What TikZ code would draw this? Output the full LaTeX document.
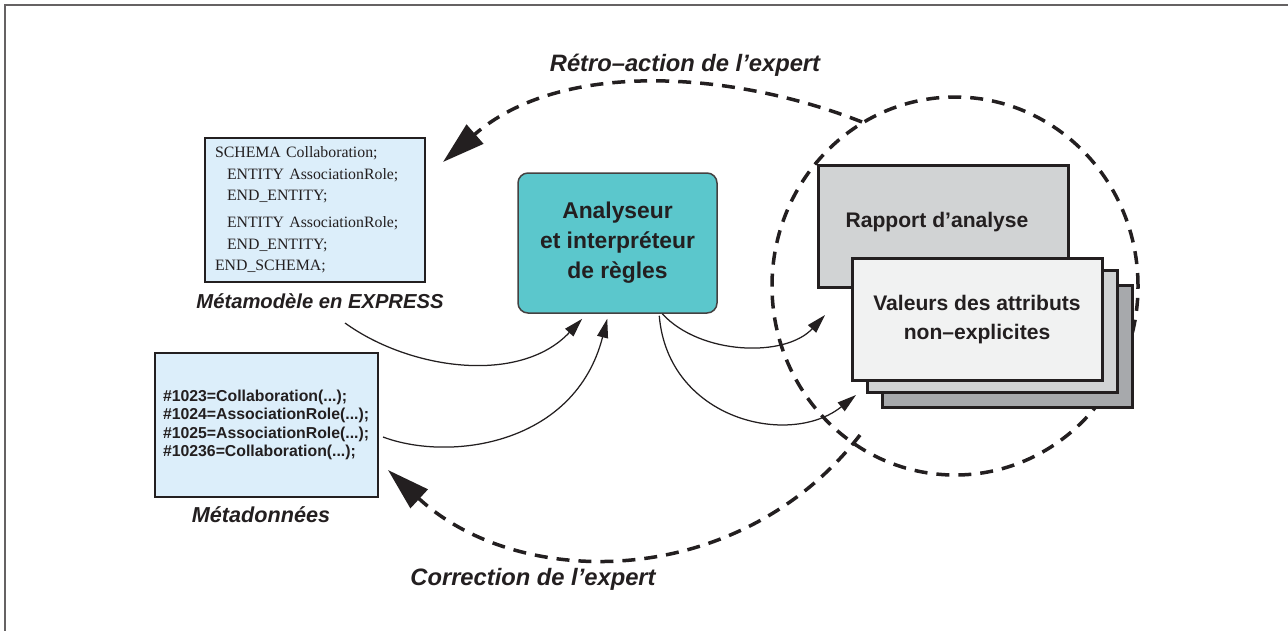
\documentclass[tikz,border=0pt]{standalone}
\usepackage{fontspec}
\setmainfont{Liberation Sans}
\newfontfamily\codefont{Liberation Serif}
\usetikzlibrary{arrows.meta}
\definecolor{ink}{RGB}{35,31,32}
\definecolor{codeblue}{RGB}{220,238,250}
\definecolor{analyseteal}{RGB}{91,199,204}
\definecolor{greylight}{RGB}{209,211,212}
\definecolor{greydark}{RGB}{167,169,172}
\definecolor{greypale}{RGB}{241,242,242}

\begin{document}
\begin{tikzpicture}
			[x=0.2mm, y=-0.2mm,
			codebox/.style={draw=ink, line width=0.5mm, fill=codeblue, minimum height=28.8mm, inner sep=0pt, align=left, text=ink},
			stackbox/.style={draw=ink, line width=0.6mm, minimum width=50mm, minimum height=24.4mm, inner sep=0pt},
			boxtext/.style={font=\bfseries\fontsize{12}{16.5}\selectfont, text=ink, align=center, inner sep=0pt},
			caption/.style={font=\bfseries\itshape\fontsize{11.5}{13}\selectfont, text=ink, anchor=base, inner sep=0pt},
			bigcaption/.style={caption, font=\bfseries\itshape\fontsize{13.5}{15}\selectfont},
			flow/.style={ink, line width=0.25mm, -{Triangle[length=3.8mm, width=2.2mm]}},
			feedback/.style={ink, line width=0.7mm, dash pattern=on 2.6mm off 1.8mm, -{Triangle[length=8.5mm, width=5mm]}}]
			\useasboundingbox (0,0) rectangle (1288,631);
			\draw[ink!70, line width=0.45mm] (1288,5) -- (5,5) -- (5,631);
			\draw[ink, line width=0.7mm, dash pattern=on 2.6mm off 1.8mm] (955,286) ellipse [x radius=36.6mm, y radius=37.8mm];
			\node[codebox, minimum width=44mm, text width=40mm, font=\codefont\fontsize{9}{12.2}\selectfont] (schema) at (315,210)
				{SCHEMA Collaboration;\\
				\hspace*{2.4mm}ENTITY AssociationRole;\\
				\hspace*{2.4mm}END\_ENTITY;\\[1.2mm]
				\hspace*{2.4mm}ENTITY AssociationRole;\\
				\hspace*{2.4mm}END\_ENTITY;\\
				END\_SCHEMA;};
			\node[caption] (schemalabel) at (320,308) {Métamodèle en EXPRESS};
			\node[codebox, minimum width=44.6mm, text width=41.4mm, font=\bfseries\fontsize{9}{10.5}\selectfont] (data) at (266.5,425)
				{\#1023=Collaboration(...);\\
				\#1024=AssociationRole(...);\\
				\#1025=AssociationRole(...);\\
				\#10236=Collaboration(...);};
			\node[caption, font=\bfseries\itshape\fontsize{12.3}{14}\selectfont] (datalabel) at (261,522) {Métadonnées};
			\node[boxtext, draw=ink!85, line width=0.3mm, rounded corners=2mm, fill=analyseteal, minimum width=39.8mm, minimum height=28mm, font=\bfseries\fontsize{13}{17}\selectfont] (analyseur) at (617.5,243)
				{Analyseur\\et interpréteur\\de règles};
			\node[stackbox, fill=greylight] (rapport) at (943,226) {};
			\node[boxtext, anchor=base] (rapporttext) at (937,227) {Rapport d'analyse};
			\node[stackbox, fill=greydark] (valeursback) at (1007.5,346) {};
			\node[stackbox, fill=greylight] (valeursmid) at (992.5,331) {};
			\node[stackbox, fill=greypale, boxtext] (valeurs) at (977,319.5) {Valeurs des attributs\\non--explicites};
			\node[bigcaption] (retrolabel) at (685,71) {Rétro--action de l'expert};
			\node[bigcaption] (correctionlabel) at (533,585) {Correction de l'expert};
			\coordinate (schemaout) at (345,323);
			\coordinate (dataout) at (383,437);
			\coordinate (rapportin) at (825,315);
			\coordinate (valeursin) at (856,395);
			\coordinate (retrostart) at (862,122);
			\coordinate (retroend) at (443,162);
			\coordinate (corrstart) at (860,435);
			\coordinate (corrend) at (388,470);
			\draw[flow] (schemaout) .. controls (410,370) and (520,385) .. ([shift={(65,5)}]analyseur.south west);
			\draw[flow] (dataout) .. controls (450,462) and (575,445) .. ([shift={(90,5)}]analyseur.south west);
			\draw[flow] ([shift={(145,0)}]analyseur.south west) .. controls (700,355) and (785,358) .. (rapportin);
			\draw[flow] ([shift={(142,2)}]analyseur.south west) .. controls (668,420) and (790,448) .. (valeursin);
			\draw[feedback] (retrostart) .. controls (730,70) and (560,60) .. (retroend);
			\draw[feedback] (corrstart) .. controls (740,590) and (520,592) .. (corrend);
\end{tikzpicture}
\end{document}
